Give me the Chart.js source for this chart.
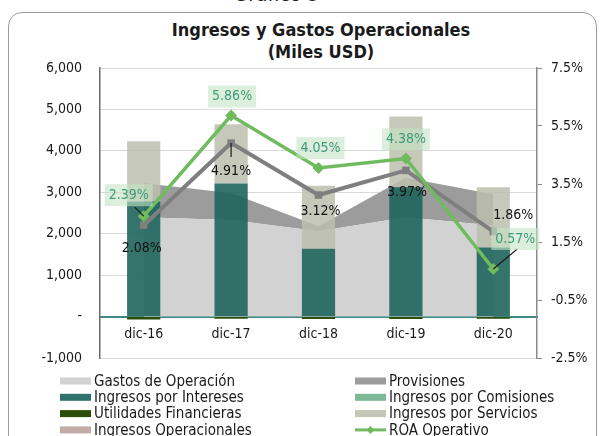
<!DOCTYPE html>
<html>
<head>
<meta charset="utf-8">
<script src="https://cdn.jsdelivr.net/npm/chart.js@4.4.1/dist/chart.umd.min.js"></script>
<style>
  body { margin: 0; background: #fff; }
  #wrap { position: relative; width: 601px; height: 436px; overflow: hidden;
          font-family: "DejaVu Sans Condensed", "DejaVu Sans", sans-serif; }
  #frame { position: absolute; left: 8px; top: 12px; width: 587px; height: 460px;
           border: 1.5px solid #9b9b9b; border-radius: 14px; }
  #fig { position: absolute; left: -24px; width: 601px; top: -18px; text-align: center;
         font-size: 21px; color: #222; }
  #title { position: absolute; left: 40px; width: 562px; top: 19px; text-align: center;
           font-weight: bold; font-size: 18px; line-height: 22px; color: #1a1a1a; }
  canvas { position: absolute; left: 0; top: 0; }
</style>
</head>
<body>
<div id="wrap">
  <div id="frame"></div>
  <div id="fig">Gráfico 5</div>
  <div id="title">Ingresos y Gastos Operacionales<br>(Miles USD)</div>
  <canvas id="chart" width="601" height="436"></canvas>
</div>
<script>
const FONT = '"DejaVu Sans Condensed", "DejaVu Sans", sans-serif';

// categories
const categories = ["dic-16", "dic-17", "dic-18", "dic-19", "dic-20"];

// areas (miles USD, stacked)
const gastosOperacion = [2400, 2330, 2060, 2400, 2200];
const provisiones = [820, 650, 120, 950, 750];

// bars (miles USD, stacked)
const ingresosIntereses = [2780, 3210, 1640, 3120, 1670];
const ingresosComisiones = [0, 0, 0, 0, 0];
const utilidadesFinancieras = [-70, -50, -60, -60, -50];
const ingresosServicios = [1450, 1430, 1520, 1710, 1450];
const ingresosOperacionales = [0, 0, 0, 0, 0];

// lines (%)
const roaOperativo = [2.39, 5.86, 4.05, 4.38, 0.57];
const roaSegundo = [2.08, 4.91, 3.12, 3.97, 1.86];

// axis ticks
const leftTicks = [-1000, 0, 1000, 2000, 3000, 4000, 5000, 6000];
const rightTicks = [-2.5, -0.5, 1.5, 3.5, 5.5, 7.5];

// data labels: offsets from the point, optional leader line end
const pointLabels = {
  id: "pointLabels",
  afterDatasetsDraw(chart) {
    const ctx = chart.ctx;
    chart.data.datasets.forEach((ds, i) => {
      const lab = ds.pointLabels;
      if (!lab) return;
      const meta = chart.getDatasetMeta(i);
      ctx.save();
      ctx.font = "14px " + FONT;
      ctx.textAlign = "center";
      ctx.textBaseline = "middle";
      meta.data.forEach((pt, j) => {
        const [dx, dy] = lab.offsets[j];
        const x = pt.x + dx, y = pt.y + dy;
        const text = ds.data[j].toFixed(2) + "%";
        const w = ctx.measureText(text).width;
        const lead = lab.leaders[j];
        if (lead) {
          ctx.strokeStyle = "#1e1e1e";
          ctx.lineWidth = 1.2;
          ctx.beginPath();
          ctx.moveTo(pt.x, pt.y);
          ctx.lineTo(pt.x + lead[0], pt.y + lead[1]);
          ctx.stroke();
        }
        if (lab.bg) {
          ctx.fillStyle = lab.bg;
          ctx.fillRect(x - w / 2 - 4, y - 11, w + 8, 22);
        }
        ctx.fillStyle = lab.color;
        ctx.fillText(text, x, y);
      });
      ctx.restore();
    });
  }
};

// legend in two columns under the plot
const gridLegend = {
  id: "gridLegend",
  afterDraw(chart) {
    const ctx = chart.ctx;
    const items = chart.data.datasets.filter(d => d.inLegend);
    ctx.save();
    ctx.font = "15px " + FONT;
    ctx.textBaseline = "middle";
    ctx.textAlign = "left";
    items.forEach((d, i) => {
      const x = i % 2 === 0 ? 60 : 355;
      const y = 381 + Math.floor(i / 2) * 16.3;
      if (d.type === "line" && !d.fill) {
        ctx.strokeStyle = d.borderColor;
        ctx.lineWidth = 3;
        ctx.beginPath();
        ctx.moveTo(x, y);
        ctx.lineTo(x + 31, y);
        ctx.stroke();
        ctx.fillStyle = d.borderColor;
        ctx.beginPath();
        ctx.moveTo(x + 15.5, y - 4);
        ctx.lineTo(x + 19.5, y);
        ctx.lineTo(x + 15.5, y + 4);
        ctx.lineTo(x + 11.5, y);
        ctx.fill();
      } else {
        ctx.fillStyle = d.legendColor || d.backgroundColor;
        ctx.fillRect(x, y - 3.5, 31, 7);
      }
      ctx.fillStyle = "#1a1a1a";
      ctx.fillText(d.label, x + 34, y + 1);
    });
    ctx.restore();
  }
};

new Chart(document.getElementById("chart"), {
  data: {
    labels: categories,
    datasets: [
      {
        type: "line", label: "Gastos de Operación", data: gastosOperacion,
        yAxisID: "y", stack: "areas", fill: "origin", order: 3, inLegend: true,
        backgroundColor: "#d2d2d2", borderWidth: 0, pointRadius: 0, tension: 0
      },
      {
        type: "line", label: "Provisiones", data: provisiones,
        yAxisID: "y", stack: "areas", fill: "-1", order: 3, inLegend: true,
        backgroundColor: "#9c9c9c", borderWidth: 0, pointRadius: 0, tension: 0
      },
      {
        type: "bar", label: "Ingresos por Intereses", data: ingresosIntereses,
        yAxisID: "y", stack: "bars", order: 2, inLegend: true,
        backgroundColor: "rgba(30,101,93,0.9)", legendColor: "#2e716a"
      },
      {
        type: "bar", label: "Ingresos por Comisiones", data: ingresosComisiones,
        yAxisID: "y", stack: "bars", order: 2, inLegend: true,
        backgroundColor: "#7db996"
      },
      {
        type: "bar", label: "Utilidades Financieras", data: utilidadesFinancieras,
        yAxisID: "y", stack: "bars", order: 2, inLegend: true,
        backgroundColor: "#2b4f0b"
      },
      {
        type: "bar", label: "Ingresos por Servicios", data: ingresosServicios,
        yAxisID: "y", stack: "bars", order: 2, inLegend: true,
        backgroundColor: "rgba(188,191,174,0.85)", legendColor: "#c4c6b8"
      },
      {
        type: "bar", label: "Ingresos Operacionales", data: ingresosOperacionales,
        yAxisID: "y", stack: "bars", order: 2, inLegend: true,
        backgroundColor: "#c4aca6"
      },
      {
        type: "line", label: "ROA Operativo", data: roaOperativo,
        yAxisID: "y1", order: 0, inLegend: true, fill: false,
        borderColor: "#6fbb5e", backgroundColor: "#6fbb5e", borderWidth: 3.5,
        pointStyle: "rectRot", pointRadius: 3.5, tension: 0,
        pointLabels: {
          color: "#3f9a78", bg: "rgba(196,228,196,0.6)",
          offsets: [[-15, -21], [1, -19], [2, -20], [0, -19], [22, -30]],
          leaders: [[-9, -9], null, null, null, [24, -20]]
        }
      },
      {
        type: "line", label: "ROA", data: roaSegundo,
        yAxisID: "y1", order: 1, fill: false,
        borderColor: "#7f7f7f", backgroundColor: "#7f7f7f", borderWidth: 4,
        pointStyle: "rect", pointRadius: 2.5, tension: 0,
        pointLabels: {
          color: "#111", bg: null,
          offsets: [[-2, 23], [0, 28], [2, 16], [1, 22], [20, -16]],
          leaders: [null, [0, 14], null, null, null]
        }
      }
    ]
  },
  options: {
    responsive: false,
    animation: false,
    layout: { padding: { top: 68, bottom: 78, left: 0, right: 0 } },
    datasets: { bar: { barPercentage: 0.38, categoryPercentage: 1 } },
    plugins: { legend: { display: false }, tooltip: { enabled: false }, title: { display: false } },
    scales: {
      x: {
        position: { y: 0 },
        stacked: true,
        grid: { display: false, drawTicks: false },
        border: { display: true, color: "#3f8880", width: 2 },
        ticks: { color: "#1a1a1a", font: { family: FONT, size: 14 }, padding: 9 }
      },
      y: {
        position: "left",
        stacked: true,
        min: -1000, max: 6000,
        afterFit: s => { s.width = 100; },
        afterBuildTicks: s => { s.ticks = leftTicks.map(v => ({ value: v })); },
        grid: { color: "#d9d9d9", drawTicks: false },
        border: { color: "#6b6b6b", width: 1.5 },
        ticks: {
          color: "#1a1a1a", padding: 18, font: { family: FONT, size: 14 },
          callback: v => (v === 0 ? "-" : v.toLocaleString("en-US"))
        }
      },
      y1: {
        position: "right",
        min: -2.5, max: 7.5,
        afterFit: s => { s.width = 64; },
        afterBuildTicks: s => { s.ticks = rightTicks.map(v => ({ value: v })); },
        grid: { drawOnChartArea: false, color: "#8a8a8a", tickLength: 5 },
        border: { color: "#8a8a8a", width: 1.5 },
        ticks: {
          color: "#1a1a1a", padding: 9, font: { family: FONT, size: 14 },
          callback: v => v.toFixed(1) + "%"
        }
      }
    }
  },
  plugins: [pointLabels, gridLegend]
});
</script>
</body>
</html>
